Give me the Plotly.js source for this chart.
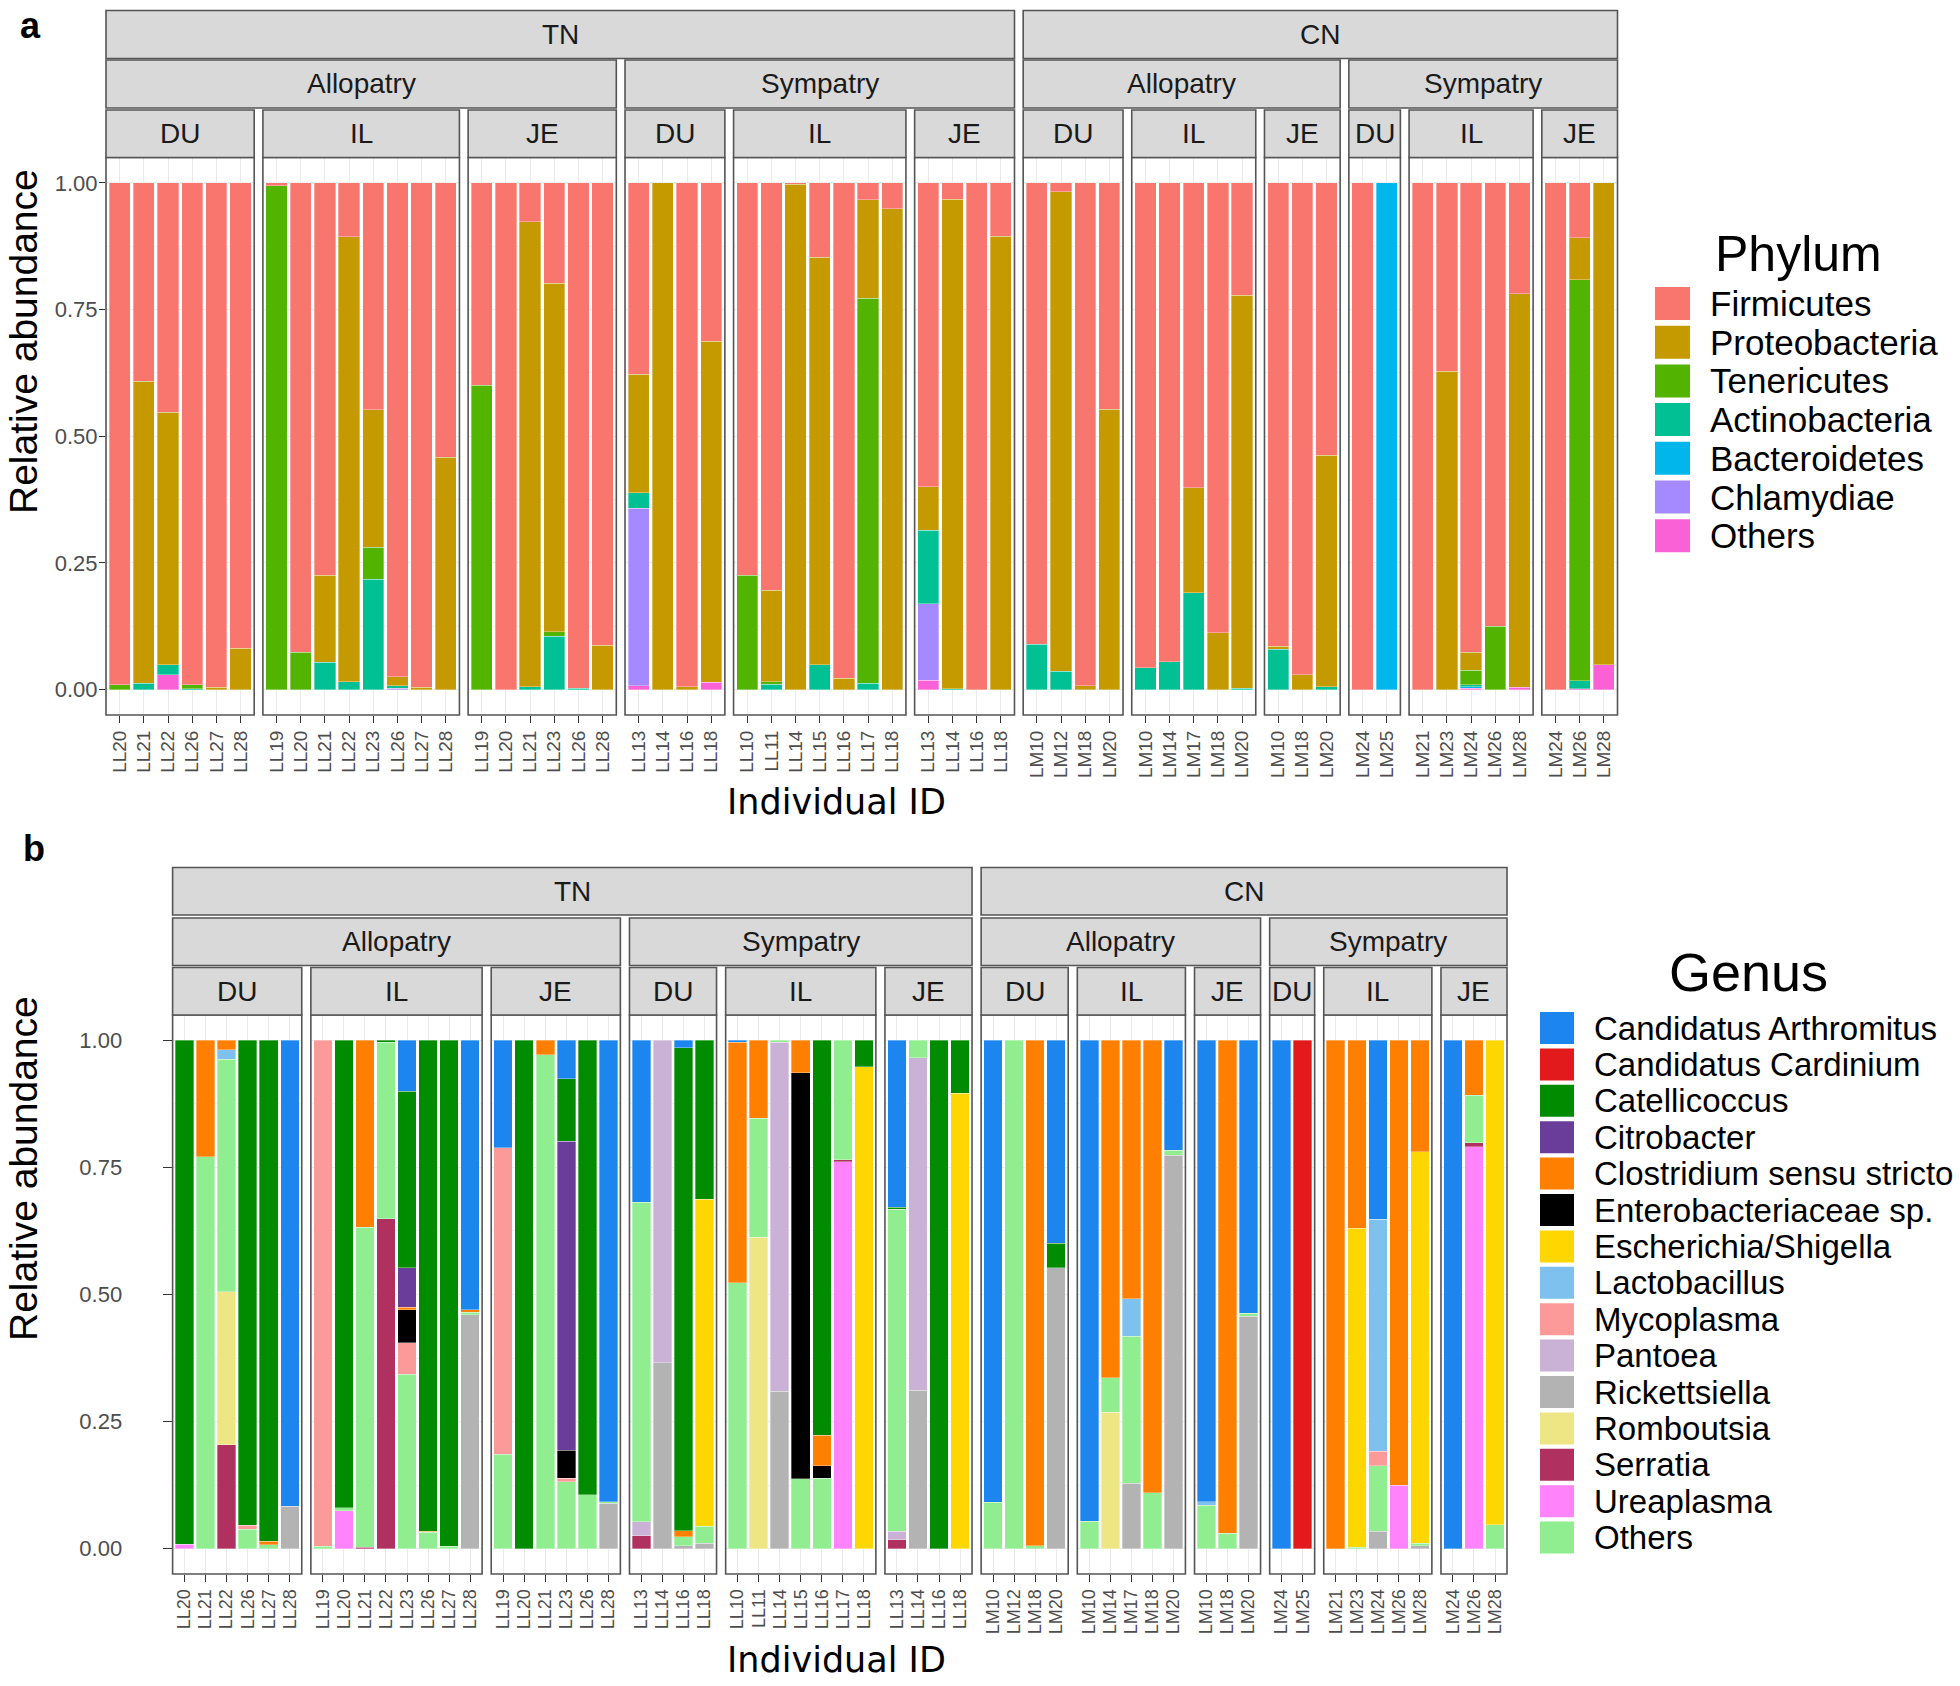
<!DOCTYPE html>
<html><head><meta charset="utf-8">
<script src="https://cdn.plot.ly/plotly-3.0.1.min.js"></script>
<style>html,body{margin:0;padding:0;background:#fff}#chart{width:1960px;height:1686px}</style>
</head><body><div id="chart"></div>
<script>
// ---------------- DATA ----------------
const facetTop = ['TN','TN','TN','TN','TN','TN','CN','CN','CN','CN','CN','CN'];
const facetMid = ['Allopatry','Allopatry','Allopatry','Sympatry','Sympatry','Sympatry','Allopatry','Allopatry','Allopatry','Sympatry','Sympatry','Sympatry'];
const facetLow = ['DU','IL','JE','DU','IL','JE','DU','IL','JE','DU','IL','JE'];
const facetIDs = [
  ['LL20','LL21','LL22','LL26','LL27','LL28'],
  ['LL19','LL20','LL21','LL22','LL23','LL26','LL27','LL28'],
  ['LL19','LL20','LL21','LL23','LL26','LL28'],
  ['LL13','LL14','LL16','LL18'],
  ['LL10','LL11','LL14','LL15','LL16','LL17','LL18'],
  ['LL13','LL14','LL16','LL18'],
  ['LM10','LM12','LM18','LM20'],
  ['LM10','LM14','LM17','LM18','LM20'],
  ['LM10','LM18','LM20'],
  ['LM24','LM25'],
  ['LM21','LM23','LM24','LM26','LM28'],
  ['LM24','LM26','LM28']
];

// Panel a : Phylum (values in sample order, facet by facet)
const firmicutes     = [.99,.391,.453,.99,.995,.918, .006,.926,.774,.106,.448,.975,.995,.541, .399,1,.077,.198,.997,.912, .378,0,.994,.313, .774,.804,.003,.147,.977,.033,.051, .6,.032,1,.105, .91,.018,.992,.447, .957,.945,.602,.888,.222, .914,.971,.537, 1,0, 1,.372,.926,.875,.219, 1,.108,0];
const proteobacteria = [0,.596,.498,0,.005,.082, 0,0,.172,.878,.271,.017,.005,.459, 0,0,.917,.688,0,.088, .233,1,.006,.672, 0,.18,.997,.804,.023,.195,.949, .085,.966,0,.895, 0,.946,.008,.553, 0,0,.207,.112,.775, .006,.029,.457, 0,0, 0,.628,.036,0,.776, 0,.083,.951];
const tenericutes    = [.01,0,0,.008,0,0, .994,.074,0,0,.063,0,0,0, .601,0,0,.009,0,0, 0,0,0,0, .226,.005,0,0,0,.759,0, 0,0,0,0, 0,0,0,0, 0,0,0,0,0, 0,0,0, 0,0, 0,0,.028,.125,0, 0,.791,0];
const actinobacteria = [0,.013,.02,.002,0,0, 0,0,.054,.016,.218,.005,0,0, 0,0,.006,.105,.003,0, .031,0,0,0, 0,.011,0,.049,0,.013,0, .145,.002,0,0, .09,.036,0,0, .043,.055,.191,0,.003, .08,0,.006, 0,0, 0,0,.004,0,0, 0,.016,0];
const bacteroidetes  = [0,0,0,0,0,0, 0,0,0,0,0,0,0,0, 0,0,0,0,0,0, 0,0,0,0, 0,0,0,0,0,0,0, 0,0,0,0, 0,0,0,0, 0,0,0,0,0, 0,0,0, 0,1, 0,0,.003,0,0, 0,0,0];
const chlamydiae     = [0,0,0,0,0,0, 0,0,0,0,0,.003,0,0, 0,0,0,0,0,0, .35,0,0,0, 0,0,0,0,0,0,0, .151,0,0,0, 0,0,0,0, 0,0,0,0,0, 0,0,0, 0,0, 0,0,0,0,0, 0,0,0];
const phylumOthers   = [0,0,.029,0,0,0, 0,0,0,0,0,0,0,0, 0,0,0,0,0,0, .008,0,0,.015, 0,0,0,0,0,0,0, .019,0,0,0, 0,0,0,0, 0,0,0,0,0, 0,0,0, 0,0, 0,0,.003,0,.005, 0,.002,.049];

const phylumNames  = ['Firmicutes','Proteobacteria','Tenericutes','Actinobacteria','Bacteroidetes','Chlamydiae','Others'];
const phylumColors = ['#F8766D','#C49A00','#53B400','#00C094','#00B6EB','#A58AFF','#FB61D7'];
const phylumValues = [firmicutes,proteobacteria,tenericutes,actinobacteria,bacteroidetes,chlamydiae,phylumOthers];
const phylumStack  = ['Others','Chlamydiae','Bacteroidetes','Actinobacteria','Tenericutes','Proteobacteria','Firmicutes'];

// Panel b : Genus
const arthromitus = [0,0,0,0,0,.917, 0,0,0,0,.1,0,0,.53, .211,0,0,.075,0,.908, .318,0,.014,0, .004,0,0,0,0,0,0, .328,0,0,0, .909,0,0,.399, .946,0,0,0,.216, .908,0,.537, 1,0, 0,0,.352,0,0, 1,0,0];
const cardinium   = [0,0,0,0,0,0, 0,0,0,0,0,0,0,0, 0,0,0,0,0,0, 0,0,0,0, 0,0,0,0,0,0,0, 0,0,0,0, 0,0,0,0, 0,0,0,0,0, 0,0,0, 0,1, 0,0,0,0,0, 0,0,0];
const catellicoccus = [.991,0,0,.954,.986,0, 0,.92,0,.004,.347,.966,.995,0, 0,1,0,.123,.894,0, 0,0,.951,.313, 0,0,0,0,.777,0,.052, .004,0,1,.104, 0,0,0,.048, 0,0,0,0,0, 0,0,0, 0,0, 0,0,0,0,0, 0,0,0];
const citrobacter = [0,0,0,0,0,0, 0,0,0,0,.078,0,0,0, 0,0,0,.608,0,0, 0,0,0,0, 0,0,0,0,0,0,0, 0,0,0,0, 0,0,0,0, 0,0,0,0,0, 0,0,0, 0,0, 0,0,0,0,0, 0,0,0];
const clostridium = [0,.229,.018,0,.006,0, 0,0,.368,0,.005,.002,0,.005, 0,0,.028,0,0,0, 0,0,.012,0, .473,.153,0,.064,.06,0,0, 0,0,0,0, 0,0,.994,0, 0,.664,.508,.89,0, 0,.97,0, 0,0, 1,.37,0,.875,.219, 0,.108,0];
const enterobact  = [0,0,0,0,0,0, 0,0,0,0,.065,0,0,0, 0,0,0,.056,0,0, 0,0,0,0, 0,0,0,.799,.025,0,0, 0,0,0,0, 0,0,0,0, 0,0,0,0,0, 0,0,0, 0,0, 0,0,0,0,0, 0,0,0];
const escherichia = [0,0,0,0,0,0, 0,0,0,0,0,0,0,0, 0,0,0,0,0,0, 0,0,0,.643, 0,0,0,0,0,0,.948, 0,0,0,.896, 0,0,0,0, 0,0,0,0,0, 0,0,0, 0,0, 0,.627,0,0,.77, 0,0,.953];
const lactobacillus = [0,0,.019,0,0,0, 0,0,0,0,0,0,0,0, 0,0,0,0,0,0, 0,0,0,0, 0,0,0,0,0,0,0, 0,0,0,0, 0,0,0,0, 0,0,.074,0,0, .007,0,0, 0,0, 0,0,.456,0,0, 0,0,0];
const mycoplasma  = [0,0,0,.008,0,0, .995,0,0,0,.062,0,0,0, .603,0,0,.006,0,0, 0,0,0,0, 0,0,0,0,0,0,0, 0,0,0,0, 0,0,0,0, 0,0,0,0,0, 0,0,0, 0,0, 0,0,.029,0,0, 0,0,0];
const pantoea     = [0,0,0,0,0,0, 0,0,0,0,0,0,0,0, 0,0,0,0,0,0, .028,.634,0,0, 0,0,.686,0,0,0,0, .017,.654,0,0, 0,0,0,0, 0,0,0,0,0, 0,0,0, 0,0, 0,0,0,0,0, 0,0,0];
const rickettsiella = [0,0,0,0,0,.083, 0,0,0,0,0,0,0,.46, 0,0,0,0,0,.089, 0,.366,.006,.011, 0,0,.31,0,0,0,0, 0,.312,0,0, 0,0,0,.553, 0,0,.129,0,.774, 0,0,.457, 0,0, 0,0,.034,0,.006, 0,0,0];
const romboutsia  = [0,0,.301,0,0,0, 0,0,0,0,0,0,0,0, 0,0,0,0,0,0, 0,0,0,0, 0,.613,0,0,0,0,0, 0,0,0,0, 0,0,0,0, 0,.268,0,0,0, 0,0,0, 0,0, 0,0,0,0,0, 0,0,0];
const serratia    = [0,0,.204,0,0,0, 0,0,.003,.649,0,0,0,0, 0,0,0,0,0,0, .025,0,0,0, 0,0,0,0,0,.004,0, .017,0,0,0, 0,0,0,0, 0,0,0,0,0, 0,0,0, 0,0, 0,0,0,0,0, 0,.008,0];
const ureaplasma  = [.009,0,0,0,0,0, 0,.074,0,0,0,0,0,0, 0,0,0,0,0,0, 0,0,0,0, 0,0,0,0,0,.761,0, 0,0,0,0, 0,0,0,0, 0,0,0,0,0, 0,0,0, 0,0, 0,0,0,.125,0, 0,.791,0];
const genusOthers = [0,.771,.458,.038,.008,0, .005,.006,.629,.347,.343,.032,.005,.005, .186,0,.972,.132,.106,.003, .629,0,.017,.033, .523,.234,.004,.137,.138,.235,0, .634,.034,0,0, .091,1,.006,0, .054,.068,.289,.11,.01, .085,.03,.006, 0,0, 0,.003,.129,0,.005, 0,.093,.047];

const genusNames = ['Candidatus Arthromitus','Candidatus Cardinium','Catellicoccus','Citrobacter','Clostridium sensu stricto','Enterobacteriaceae sp.','Escherichia/Shigella','Lactobacillus','Mycoplasma','Pantoea','Rickettsiella','Romboutsia','Serratia','Ureaplasma','Others'];
const genusColors = ['#1C86EE','#E31A1C','#008B00','#6A3D9A','#FF7F00','#000000','#FFD700','#7EC0EE','#FB9A99','#CAB2D6','#B3B3B3','#EEE685','#B03060','#FF83FA','#90EE90'];
const genusValues = [arthromitus,cardinium,catellicoccus,citrobacter,clostridium,enterobact,escherichia,lactobacillus,mycoplasma,pantoea,rickettsiella,romboutsia,serratia,ureaplasma,genusOthers];
const genusStack = ['Ureaplasma','Serratia','Romboutsia','Rickettsiella','Pantoea','Others','Mycoplasma','Lactobacillus','Escherichia/Shigella','Enterobacteriaceae sp.','Clostridium sensu stricto','Citrobacter','Catellicoccus','Candidatus Cardinium','Candidatus Arthromitus'];

const yTickVals = [0,0.25,0.5,0.75,1];
const yTickText = ['0.00','0.25','0.50','0.75','1.00'];

// ---------------- GEOMETRY / STYLE ----------------
const W = 1960, H = 1686;
const FONT = 'Liberation Sans, Arial, Helvetica, sans-serif';
const px = x => x / W, py = y => 1 - y / H;
const BORDER = '#555555';

const panels = [
  {x0:106, x1:1617.5, gap:8.7, pad:0.066, top:157.5, bot:715,
   strips:[[10.5,58.5],[60,108],[110,157.5]], axOff:0, yName:'y', yKey:'yaxis',
   names:phylumNames, colors:phylumColors, values:phylumValues, stack:phylumStack,
   ticklen:6, standoff:-3, xfont:19, ytitleY:342, xtitleY:802,
   legend:{title:'Phylum', titleX:1798, titleY:254, titleSize:50, keyX0:1655, keyX1:1690, y0:303.5, dy:38.7, kh:33, labelX:1708, size:35}},
  {x0:172.6, x1:1507, gap:9.1, pad:0.069, top:1015, bot:1574,
   strips:[[867.5,915],[918,965.5],[967.5,1015]], axOff:12, yName:'y2', yKey:'yaxis2',
   names:genusNames, colors:genusColors, values:genusValues, stack:genusStack,
   ticklen:9, standoff:36, xfont:18, ytitleY:1169, xtitleY:1660,
   legend:{title:'Genus', titleX:1748, titleY:972, titleSize:54, keyX0:1540, keyX1:1574, y0:1028, dy:36.4, kh:32, labelX:1592, size:33}}
];

const traces = [], shapes = [], annotations = [];
const layout = {
  width:W, height:H, autosize:false,
  margin:{l:0,r:0,t:0,b:0,pad:0},
  paper_bgcolor:'#ffffff', plot_bgcolor:'#ffffff',
  barmode:'stack', showlegend:false,
  font:{family:FONT, color:'#000'}
};

function axName(n){ return n===1 ? 'x' : 'x'+n; }
function axKey(n){ return n===1 ? 'xaxis' : 'xaxis'+n; }

panels.forEach(P => {
  const nTot = facetIDs.reduce((s,f)=>s+f.length,0);
  const nF = facetIDs.length;
  const w = (P.x1 - P.x0 - P.gap*(nF-1)) / (nTot + 2*P.pad*nF);
  let cx = P.x0;
  const geo = facetIDs.map(ids => { const fw=(ids.length+2*P.pad)*w; const g={l:cx,r:cx+fw}; cx += fw + P.gap; return g; });

  // y axis
  layout[P.yKey] = {
    domain:[py(P.bot), py(P.top)], range:[-0.05,1.05], anchor:axName(1+P.axOff),
    tickmode:'array', tickvals:yTickVals, ticktext:yTickText,
    ticks:'outside', ticklen:P.ticklen, tickwidth:1.2, tickcolor:'#333333',
    ticklabelstandoff:P.standoff,
    tickfont:{family:FONT, size:22, color:'#4d4d4d'},
    showgrid:true, gridcolor:'#ebebeb', gridwidth:1.1,
    minor:{dtick:0.125, tick0:0, showgrid:true, gridcolor:'#f3f3f3', gridwidth:0.7},
    zeroline:false, showline:false, fixedrange:true
  };

  // x axes (one per facet)
  facetIDs.forEach((ids,k) => {
    const n = k+1+P.axOff;
    layout[axKey(n)] = {
      domain:[px(geo[k].l), px(geo[k].r)], anchor:P.yName, type:'category',
      categoryorder:'array', categoryarray:ids,
      tickmode:'array', tickvals:ids, ticktext:ids,
      range:[-0.5-P.pad, ids.length-0.5+P.pad],
      ticks:'outside', ticklen:7, tickwidth:1.2, tickcolor:'#333333',
      tickangle:-90, tickfont:{family:FONT, size:P.xfont, color:'#4d4d4d'},
      showgrid:true, gridcolor:'#ebebeb', gridwidth:1.1,
      zeroline:false, showline:false, fixedrange:true
    };
    // panel border
    shapes.push({type:'rect', xref:'paper', yref:'paper', x0:px(geo[k].l), x1:px(geo[k].r), y0:py(P.bot), y1:py(P.top),
      line:{color:BORDER, width:1.6}, fillcolor:'rgba(0,0,0,0)', layer:'above'});
  });

  // bars
  P.stack.forEach(name => {
    const si = P.names.indexOf(name);
    let idx = 0;
    facetIDs.forEach((ids,k) => {
      const vals = ids.map((_,j) => P.values[si][idx+j]);
      idx += ids.length;
      traces.push({
        type:'bar', name:name, x:ids, y:vals.map(v => v>0 ? v : null),
        xaxis:axName(k+1+P.axOff), yaxis:P.yName, width:0.88,
        marker:{color:P.colors[si], line:{color:'rgba(255,255,255,0.55)', width:0.6}},
        showlegend:false, hovertemplate:name+'<br>%{x}: %{y:.3f}<extra></extra>'
      });
    });
  });

  // strips (3 nested levels)
  const levels = [facetTop.map(t=>t), facetMid.map((m,i)=>facetTop[i]+'|'+m), facetLow.map((l,i)=>i+'')];
  const labels = [facetTop, facetMid, facetLow];
  levels.forEach((keys,lv) => {
    let s = 0;
    for (let i=1;i<=keys.length;i++){
      if (i===keys.length || keys[i]!==keys[s]) {
        const l = geo[s].l, r = geo[i-1].r;
        const [yt,yb] = P.strips[lv];
        shapes.push({type:'rect', xref:'paper', yref:'paper', x0:px(l), x1:px(r), y0:py(yb), y1:py(yt),
          line:{color:BORDER, width:1.6}, fillcolor:'#d9d9d9', layer:'above'});
        annotations.push({xref:'paper', yref:'paper', x:px((l+r)/2), y:py((yt+yb)/2), text:labels[lv][s],
          showarrow:false, xanchor:'center', yanchor:'middle', font:{family:FONT, size:28, color:'#1a1a1a'}});
        s = i;
      }
    }
  });

  // axis titles
  annotations.push({xref:'paper', yref:'paper', x:px(23), y:py(P.ytitleY), text:'Relative abundance', textangle:-90,
    showarrow:false, xanchor:'center', yanchor:'middle', font:{family:FONT, size:39, color:'#000'}});
  annotations.push({xref:'paper', yref:'paper', x:px(836), y:py(P.xtitleY), text:'Individual ID',
    showarrow:false, xanchor:'center', yanchor:'middle', font:{family:'DejaVu Sans, Verdana, sans-serif', size:35, color:'#000'}});

  // manual legend
  const L = P.legend;
  annotations.push({xref:'paper', yref:'paper', x:px(L.titleX), y:py(L.titleY), text:L.title,
    showarrow:false, xanchor:'center', yanchor:'middle', font:{family:FONT, size:L.titleSize, color:'#000'}});
  P.names.forEach((nm,i) => {
    const cy = L.y0 + i*L.dy;
    shapes.push({type:'rect', xref:'paper', yref:'paper', x0:px(L.keyX0), x1:px(L.keyX1), y0:py(cy+L.kh/2), y1:py(cy-L.kh/2),
      line:{width:0}, fillcolor:P.colors[i], layer:'above'});
    annotations.push({xref:'paper', yref:'paper', x:px(L.labelX), y:py(cy), text:nm,
      showarrow:false, xanchor:'left', yanchor:'middle', font:{family:FONT, size:L.size, color:'#000'}});
  });
});

// panel tags
annotations.push({xref:'paper', yref:'paper', x:px(30), y:py(25), text:'<b>a</b>', showarrow:false,
  xanchor:'center', yanchor:'middle', font:{family:FONT, size:36, color:'#000'}});
annotations.push({xref:'paper', yref:'paper', x:px(34), y:py(848), text:'<b>b</b>', showarrow:false,
  xanchor:'center', yanchor:'middle', font:{family:FONT, size:36, color:'#000'}});

layout.shapes = shapes;
layout.annotations = annotations;

Plotly.newPlot('chart', traces, layout, {displayModeBar:false, responsive:false});
</script>
</body></html>
